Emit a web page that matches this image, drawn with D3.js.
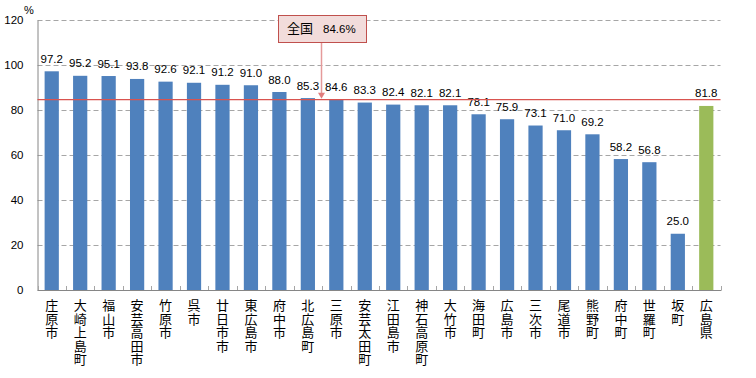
<!DOCTYPE html>
<html><head><meta charset="utf-8">
<script src="https://cdn.jsdelivr.net/npm/d3@7/dist/d3.min.js"></script>
<style>body{margin:0;background:#fff}svg{display:block}
.vt{writing-mode:vertical-rl;text-orientation:upright;}</style>
</head><body>
<svg id="c" width="756" height="378"></svg>
<script>
const categories = ["庄原市","大崎上島町","福山市","安芸高田市","竹原市","呉市","廿日市市","東広島市","府中市","北広島町","三原市","安芸太田町","江田島市","神石高原町","大竹市","海田町","広島市","三次市","尾道市","熊野町","府中町","世羅町","坂町","広島県"];
const values = [97.2,95.2,95.1,93.8,92.6,92.1,91.2,91.0,88.0,85.3,84.6,83.3,82.4,82.1,82.1,78.1,75.9,73.1,71.0,69.2,58.2,56.8,25.0,81.8];
const highlight = ["広島県"];
const nationalValue = 84.6;
const nationalLabel = "全国";
const yTicks = [0,20,40,60,80,100,120];
const yUnit = "%";

const svg = d3.select("#c");
const L = 37.5, R = 720.5, T = 20, B = 290;
const x = d3.scaleBand().domain(categories).range([L, R]).paddingInner(0.5).paddingOuter(0.25);
const y = d3.scaleLinear().domain([0, 120]).range([B, T]);
const numFont = "'Liberation Sans', Arial, sans-serif";
const jpFont = "'Noto Sans CJK JP', sans-serif";

// gridlines
svg.append("g").selectAll("line").data(yTicks.filter(d => d > 0)).join("line")
  .attr("x1", L).attr("x2", R).attr("y1", d => Math.round(y(d)) + 0.5).attr("y2", d => Math.round(y(d)) + 0.5)
  .attr("stroke", "#a6a6a6").attr("stroke-dasharray", "5,3").attr("stroke-width", 1);

// y axis
const yAxis = d3.axisLeft(y).tickValues(yTicks).tickSize(0).tickPadding(0);
const gy = svg.append("g").attr("transform", `translate(${L},0)`).call(yAxis);
gy.select(".domain").attr("stroke", "#868686");
gy.selectAll("text").attr("x", -14).attr("font-family", numFont).attr("font-size", 11.5).attr("fill", "#000");
svg.append("text").attr("x", 24).attr("y", 14).text(yUnit)
  .attr("font-family", numFont).attr("font-size", 11).attr("fill", "#000");

// bars
svg.append("g").selectAll("rect").data(categories).join("rect")
  .attr("x", d => x(d)).attr("width", x.bandwidth())
  .attr("y", (d, i) => y(values[i])).attr("height", (d, i) => B - y(values[i]))
  .attr("fill", d => highlight.includes(d) ? "#9bbb59" : "#4f81bd");

// x axis
const step = x.step();
const gx = svg.append("g");
gx.append("line").attr("x1", L).attr("x2", R + 1).attr("y1", B + 0.5).attr("y2", B + 0.5).attr("stroke", "#868686");
gx.selectAll("line.t").data(d3.range(categories.length + 1)).join("line").attr("class", "t")
  .attr("x1", i => Math.round(L + i * step) + 0.5).attr("x2", i => Math.round(L + i * step) + 0.5)
  .attr("y1", B - 4).attr("y2", B).attr("stroke", "#a6a6a6");

// category labels (vertical text)
svg.append("g").selectAll("text").data(categories).join("text")
  .attr("class", "vt")
  .attr("x", d => x(d) + x.bandwidth() / 2).attr("y", 299)
  .attr("font-family", jpFont).attr("font-size", 13).attr("letter-spacing", 0.4).attr("fill", "#000")
  .text(d => d);

// data labels
svg.append("g").selectAll("text").data(categories).join("text")
  .attr("x", d => x(d) + x.bandwidth() / 2).attr("y", (d, i) => y(values[i]) - 8.5)
  .attr("text-anchor", "middle").attr("font-family", numFont).attr("font-size", 11.5).attr("fill", "#000")
  .text((d, i) => values[i].toFixed(1));

// national line
svg.append("line").attr("x1", L).attr("x2", R).attr("y1", y(nationalValue)).attr("y2", y(nationalValue))
  .attr("stroke", "#d9534f").attr("stroke-width", 1.2);

// callout
const ax = 321.5;
svg.append("line").attr("x1", ax).attr("x2", ax).attr("y1", 42).attr("y2", y(nationalValue) - 4)
  .attr("stroke", "#e59a9a").attr("stroke-width", 1.5);
svg.append("path").attr("d", `M${ax-3.5},${y(nationalValue)-7} L${ax+3.5},${y(nationalValue)-7} L${ax},${y(nationalValue)-1} Z`)
  .attr("fill", "#e07c7c");
svg.append("rect").attr("x", 278.5).attr("y", 15.5).attr("width", 88).attr("height", 27)
  .attr("fill", "#f2dcdb").attr("stroke", "#c0504d").attr("stroke-width", 1);
const ct = svg.append("text").attr("y", 33).attr("fill", "#000");
ct.append("tspan").attr("x", 287).attr("font-family", jpFont).attr("font-size", 13).text(nationalLabel);
ct.append("tspan").attr("x", 323).attr("font-family", numFont).attr("font-size", 11.5).text(nationalValue.toFixed(1) + "%");
</script>
</body></html>
